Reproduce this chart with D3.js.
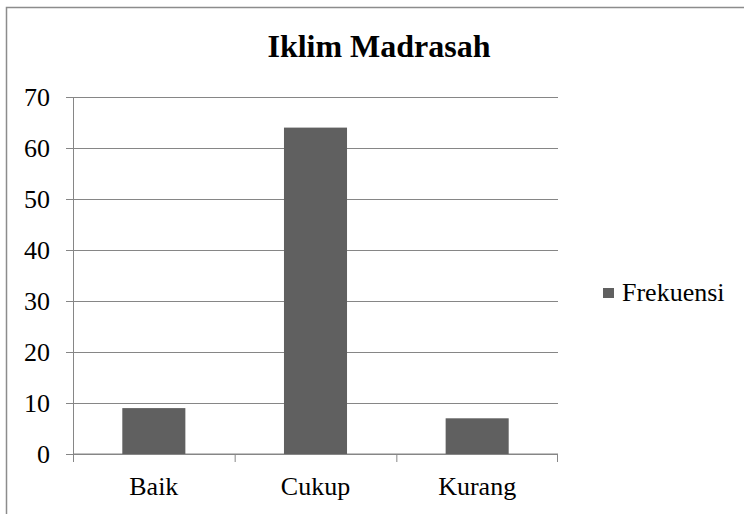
<!DOCTYPE html>
<html>
<head>
<meta charset="utf-8">
<script src="https://cdn.jsdelivr.net/npm/d3@7"></script>
<style>
  body { margin: 0; background: #fff; }
</style>
</head>
<body>
<div id="chart"></div>
<script>
var categories = ["Baik", "Cukup", "Kurang"];
var frekuensi = [9, 64, 7];
var yTicks = [0, 10, 20, 30, 40, 50, 60, 70];
var seriesName = "Frekuensi";

var W = 744, H = 514;
var margin = {top: 97, left: 73, right: 186, bottom: 60};
var width = 558 - margin.left, height = 454 - margin.top;
var serif = "Liberation Serif";

var svg = d3.select("#chart").append("svg")
    .attr("width", W)
    .attr("height", H);

// chart frame
svg.append("rect")
    .attr("x", 6.5).attr("y", 7.5)
    .attr("width", W + 10).attr("height", H + 10)
    .attr("fill", "none")
    .attr("stroke", "#8c8c8c")
    .attr("stroke-width", 1.5);

svg.append("text")
    .attr("x", 379).attr("y", 57)
    .attr("text-anchor", "middle")
    .attr("font-family", serif)
    .attr("font-size", 32)
    .attr("font-weight", "bold")
    .text("Iklim Madrasah");

var g = svg.append("g")
    .attr("transform", "translate(" + margin.left + "," + margin.top + ")");

var xb = d3.scaleBand().domain(categories).range([0, width]);
var y = d3.scaleLinear().domain([0, 70]).range([height, 0]);

// gridlines + y axis
g.append("g")
    .attr("class", "axis axis--y")
    .call(d3.axisLeft(y).tickValues(yTicks).tickSize(-width - 7).tickPadding(23).tickSizeOuter(0))
    .attr("font-family", serif)
    .attr("font-size", 26)
    .call(function(a) {
      a.select(".domain").remove();
      a.selectAll(".tick line").attr("x1", -7).attr("x2", width).attr("stroke", "#868686");
      a.selectAll("text").attr("fill", "#000");
    });

// vertical axis line
g.append("line")
    .attr("x1", 0.5).attr("x2", 0.5)
    .attr("y1", 0).attr("y2", height)
    .attr("stroke", "#868686");

// x axis with boundary ticks
var xAxis = g.append("g").attr("transform", "translate(0," + height + ")");
xAxis.append("line")
    .attr("x1", 0).attr("x2", width)
    .attr("stroke", "#868686");
xAxis.selectAll(".bt")
    .data(categories.concat(["_end"]))
    .enter().append("line")
    .attr("x1", function(d, i) { return i < categories.length ? xb(d) + 0.5 : width - 0.5; })
    .attr("x2", function(d, i) { return i < categories.length ? xb(d) + 0.5 : width - 0.5; })
    .attr("y1", 0).attr("y2", 8)
    .attr("stroke", "#868686");
xAxis.selectAll(".lbl")
    .data(categories)
    .enter().append("text")
    .attr("x", function(d) { return xb(d) + xb.bandwidth() / 2; })
    .attr("y", 41)
    .attr("text-anchor", "middle")
    .attr("font-family", serif)
    .attr("font-size", 26)
    .text(function(d) { return d; });

// bars
g.selectAll(".bar")
    .data(frekuensi)
    .enter().append("rect")
    .attr("class", "bar")
    .attr("x", function(d, i) { return xb(categories[i]) + xb.bandwidth() * 0.305; })
    .attr("y", function(d) { return y(d); })
    .attr("width", xb.bandwidth() * 0.39)
    .attr("height", function(d) { return height - y(d); })
    .attr("fill", "#606060");

// legend
var lg = svg.append("g").attr("transform", "translate(603,288)");
lg.append("rect").attr("width", 11).attr("height", 10).attr("fill", "#606060");
lg.append("text").attr("x", 19).attr("y", 13)
    .attr("font-family", serif).attr("font-size", 26)
    .text(seriesName);
</script>
</body>
</html>
